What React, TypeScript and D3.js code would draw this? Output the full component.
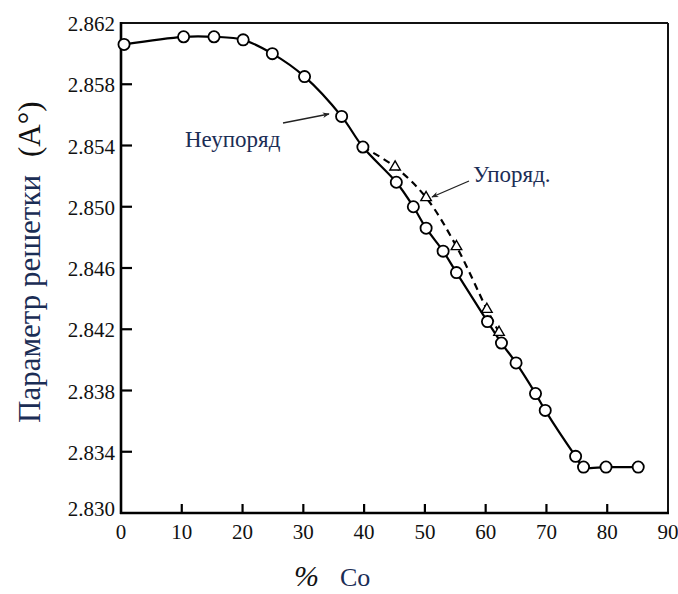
import React from "react";
import * as d3 from "d3";

// Disordered alloy (circles, solid line)
const coPct = [0.5, 10.3, 15.3, 20.1, 24.9, 30.2, 36.3, 39.8, 45.3, 48.1, 50.2, 53.0, 55.2, 60.3, 62.6, 65.0, 68.2, 69.8, 74.8, 76.1, 79.8, 85.1];
const latticeDisordered = [2.8606, 2.8611, 2.8611, 2.8609, 2.8600, 2.8585, 2.8559, 2.8539, 2.8516, 2.8500, 2.8486, 2.8471, 2.8457, 2.8425, 2.8411, 2.8398, 2.8378, 2.8367, 2.8337, 2.8330, 2.8330, 2.8330];

// Ordered alloy (triangles, dashed line)
const coPctOrdered = [45.1, 50.2, 55.2, 60.2, 62.2];
const latticeOrdered = [2.8526, 2.8506, 2.8474, 2.8433, 2.8418];
// dashed line branches off the disordered curve at this point
const orderedStart = { x: 39.8, y: 2.8539 };

const xTicks = [0, 10, 20, 30, 40, 50, 60, 70, 80, 90];
const yTicks = [2.830, 2.834, 2.838, 2.842, 2.846, 2.850, 2.854, 2.858, 2.862];

const W = 678;
const H = 594;
const M = { left: 121, right: 668, top: 23, bottom: 513 };
const FONT = "Liberation Serif";
const NAVY = "#1b2d55";

export default function App() {
  const x = d3.scaleLinear().domain([0, 90]).range([M.left, M.right]);
  const y = d3.scaleLinear().domain([2.830, 2.862]).range([M.bottom, M.top]);

  const dis = coPct.map((c, i) => ({ x: c, y: latticeDisordered[i] }));
  const ord = [orderedStart, ...coPctOrdered.map((c, i) => ({ x: c, y: latticeOrdered[i] }))];

  const solid = d3
    .line<{ x: number; y: number }>()
    .x((d) => x(d.x))
    .y((d) => y(d.y))
    .curve(d3.curveCatmullRom.alpha(0.5));
  const dashed = d3
    .line<{ x: number; y: number }>()
    .x((d) => x(d.x))
    .y((d) => y(d.y))
    .curve(d3.curveCatmullRom.alpha(0.5));

  const tri = d3.symbol().type(d3.symbolTriangle).size(48)() as string;
  const ts = { fontFamily: FONT };

  return (
    <svg
      width={W}
      height={H}
      style={{ position: "absolute", left: 0, top: 0, background: "#fff", fontFamily: FONT }}
    >
      <defs>
        <marker id="arr" viewBox="0 0 10 10" refX="9" refY="5" markerWidth="9" markerHeight="7" orient="auto" markerUnits="userSpaceOnUse">
          <path d="M0,1 L10,5 L0,9 L3,5 Z" fill="#222" />
        </marker>
      </defs>

      {/* frame */}
      <line x1={M.left} x2={M.right} y1={M.top} y2={M.top} stroke="#111" strokeWidth={2} />
      <line x1={M.right} x2={M.right} y1={M.top} y2={M.bottom} stroke="#111" strokeWidth={2} />
      <line x1={M.left} x2={M.left} y1={M.top - 1} y2={M.bottom + 1} stroke="#000" strokeWidth={2.6} />
      <line x1={M.left - 1} x2={M.right + 1} y1={M.bottom} y2={M.bottom} stroke="#000" strokeWidth={2.6} />

      {/* y ticks */}
      {yTicks.map((t) => (
        <g key={"y" + t}>
          {t > 2.830 && t < 2.862 && (
            <line x1={M.left} x2={M.left + 11} y1={y(t)} y2={y(t)} stroke="#000" strokeWidth={2.2} />
          )}
          <text
            x={M.left - 6}
            y={y(t) + (t === 2.830 ? 3 : 8)}
            textAnchor="end"
            fontSize={21}
            fill="#111"
            style={ts}
          >
            {t.toFixed(3)}
          </text>
        </g>
      ))}

      {/* x ticks */}
      {xTicks.map((t) => (
        <g key={"x" + t}>
          {t > 0 && t < 90 && (
            <line x1={x(t)} x2={x(t)} y1={M.bottom} y2={M.bottom - 9} stroke="#000" strokeWidth={2.2} />
          )}
          <text x={x(t)} y={M.bottom + 26} textAnchor="middle" fontSize={21} fill="#111" style={ts}>
            {t}
          </text>
        </g>
      ))}

      {/* dashed ordered curve */}
      <path d={dashed(ord) || ""} fill="none" stroke="#000" strokeWidth={2.2} strokeDasharray="7,5" />

      {/* solid disordered curve */}
      <path d={solid(dis) || ""} fill="none" stroke="#000" strokeWidth={2.2} />

      {/* triangles */}
      {ord.slice(1).map((d, i) => (
        <path key={"t" + i} d={tri} transform={`translate(${x(d.x)},${y(d.y)})`} fill="#fff" stroke="#000" strokeWidth={1.4} />
      ))}

      {/* circles */}
      {dis.map((d, i) => (
        <circle key={"c" + i} cx={x(d.x)} cy={y(d.y)} r={5.6} fill="#fff" stroke="#000" strokeWidth={1.8} />
      ))}

      {/* annotations */}
      <line x1={283} y1={123} x2={329} y2={114} stroke="#222" strokeWidth={1.3} markerEnd="url(#arr)" />
      <text x={185} y={147} fontSize={23} fill={NAVY} style={ts}>Неупоряд</text>

      <line x1={469} y1={181} x2={432} y2={197} stroke="#222" strokeWidth={1.3} markerEnd="url(#arr)" />
      <text x={473} y={182} fontSize={23} fill={NAVY} style={ts}>Упоряд.</text>

      {/* axis titles */}
      <g transform="translate(40,423) rotate(-90)">
        <text x={0} y={0} fontSize={31} fill={NAVY} style={ts}>
          Параметр решетки
          <tspan dx={18} fill="#111">(A°)</tspan>
        </text>
      </g>
      <text x={294} y={586} fontSize={30} fontStyle="italic" fill="#111" style={ts}>%</text>
      <text x={340} y={586} fontSize={26} fill={NAVY} style={ts}>Co</text>
    </svg>
  );
}
